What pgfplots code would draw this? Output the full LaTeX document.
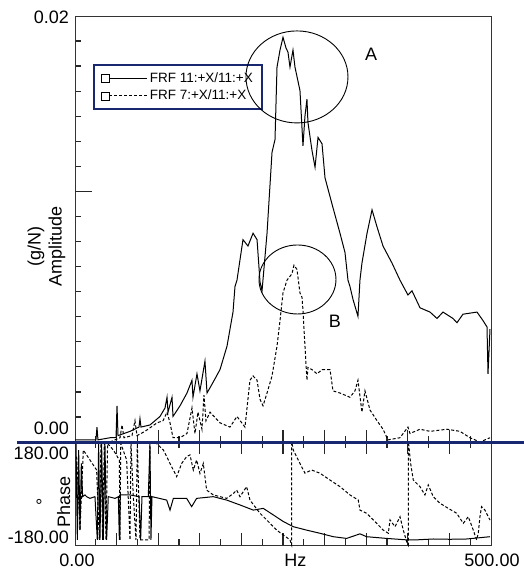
\documentclass[border=0pt]{standalone}
\usepackage{fontspec}
\setmainfont{Liberation Sans}
\usepackage{pgfplots}
\pgfplotsset{compat=1.18}
\definecolor{navy}{RGB}{25,38,112}

\begin{document}
\fontsize{18bp}{21bp}\selectfont
\begin{tikzpicture}
\useasboundingbox (0,0) rectangle (524bp,-573bp);
\pgfplotsset{
  frf/.style={
    scale only axis, width=416bp,
    xmin=0, xmax=500, clip=false,
    scaled y ticks=false, scaled x ticks=false,
    axis line style={black!80, line width=0.9bp},
    tick style={black!85, line width=1.3bp},
    tick align=inside,
    major tick length=6bp,
    xtick={25,75,...,475}, xticklabels=\empty,
    extra x ticks={50,100,...,450}, extra x tick labels={},
    extra x tick style={major tick length=12bp},
  },
  amp/.style={black, line width=1bp},
  amp7/.style={black, line width=1bp, dash pattern=on 3bp off 2bp},
}

% ---------- amplitude ----------
\begin{axis}[frf,
  at={(75bp,-16bp)}, anchor=north west, height=426bp,
  ymin=0, ymax=0.02,
  xtick pos=left, ytick pos=left,
  ytick={0.0011765,0.0023529,0.0035294,0.0047059,0.0058824,0.0070588,0.0082353,0.0094118,0.0105882,0.0129412,0.0141176,0.0152941,0.0164706,0.0176471,0.0188235},
  yticklabels=\empty,
  extra y ticks={0.0117647}, extra y tick labels={},
  extra y tick style={major tick length=17bp},
  ylabel={(g/N)\\Amplitude},
  ylabel style={at={(rel axis cs:-0.0685,0.458)}, anchor=center, align=center, rotate=0},
  legend style={at={(rel axis cs:0.043,0.887)}, anchor=north west,
    draw=navy, line width=2.2bp, fill=white,
    font=\fontsize{13.5bp}{16bp}\selectfont,
    inner xsep=7bp, inner ysep=5bp, row sep=1bp},
  legend cell align=left,
  legend image code/.code={
    \draw[#1] (8bp,0bp) -- (46bp,0bp);
    \draw[solid, line width=0.6bp, black] (0bp,-4bp) rectangle (8bp,4bp);
  },
]
\addplot[amp] coordinates {
(0,0.0001) (18,0.0001) (25.2,0.0001) (26.4,0.0007) (27.6,0.0001) (42.1,0.0002)
(49.3,0.0002) (50.5,0.0017) (51.7,0.0003) (66.1,0.0005) (76.9,0.0007) (78.1,0.0011)
(79.3,0.0007) (90.1,0.0008) (102.2,0.0012) (108.2,0.0016) (110.6,0.0021) (111.8,0.0014)
(116.6,0.0021) (117.8,0.0012) (126.2,0.0017) (134.6,0.0023) (140.6,0.0029) (141.8,0.0021)
(146.6,0.0032) (150.2,0.0024) (156.2,0.0038) (158.7,0.0023) (165.9,0.0028) (174.3,0.0034)
(182.7,0.0045) (189.9,0.0061) (192.3,0.0073) (194.7,0.0076) (201.9,0.0095) (207.9,0.0092)
(214.0,0.0098) (218.8,0.0095) (222.4,0.0075) (224.8,0.0071) (230.8,0.0098) (236.8,0.0136)
(240.4,0.0142) (242.8,0.0176) (246.4,0.0184) (250.0,0.0190) (253.6,0.0185) (256.0,0.0183)
(258.4,0.0176) (262.0,0.0184) (264.4,0.0176) (270.4,0.0165) (274.0,0.0139) (276.4,0.0153)
(278.8,0.0161) (280.0,0.0150) (284.8,0.0137) (288.5,0.0129) (292.1,0.0143) (296.9,0.0140)
(300.5,0.0124) (310.1,0.0110) (318.5,0.0098) (324.5,0.0089) (328.1,0.0076) (330.5,0.0073)
(334.1,0.0067) (340.1,0.0059) (342.5,0.0076) (344.9,0.0084) (351.0,0.0098) (357.0,0.0109)
(363.0,0.0101) (370.2,0.0092) (381.0,0.0084) (390.6,0.0076) (400.2,0.0069) (405.0,0.0071)
(414.7,0.0063) (426.7,0.0061) (435.1,0.0058) (442.3,0.0061) (454.3,0.0058) (459.1,0.0056)
(466.3,0.0060) (483.2,0.0061) (490.4,0.0057) (495.2,0.0054) (496.4,0.0032) (498.8,0.0053)
};
\addlegendentry{FRF 11:+X/11:+X}
\addplot[amp7] coordinates {
(0,0.0000) (42.1,0.0000) (54.1,0.0002) (56.5,0.0008) (58.9,0.0002) (68.5,0.0003)
(72.1,0.0010) (74.5,0.0003) (84.1,0.0005) (98.6,0.0009) (105.8,0.0010) (110.6,0.0014)
(114.2,0.0009) (117.8,0.0002) (126.2,0.0002) (134.6,0.0004) (140.6,0.0016) (144.2,0.0004)
(147.8,0.0014) (152.6,0.0006) (155.0,0.0022) (157.4,0.0010) (162.3,0.0014) (174.3,0.0009)
(186.3,0.0007) (194.7,0.0012) (204.3,0.0007) (210.3,0.0029) (214.0,0.0031) (218.8,0.0029)
(222.4,0.0020) (226.0,0.0017) (230.8,0.0023) (236.8,0.0031) (242.8,0.0045) (246.4,0.0057)
(250.0,0.0070) (254.8,0.0076) (260.8,0.0079) (263.2,0.0083) (266.8,0.0081) (270.4,0.0070)
(272.8,0.0068) (274.0,0.0062) (276.4,0.0045) (278.8,0.0029) (280.0,0.0035) (284.8,0.0034)
(290.9,0.0032) (296.9,0.0034) (306.5,0.0034) (310.1,0.0024) (318.5,0.0023) (330.5,0.0021)
(336.5,0.0024) (340.1,0.0029) (344.9,0.0014) (348.5,0.0024) (354.6,0.0015) (363.0,0.0010)
(370.2,0.0006) (376.2,0.0001) (390.6,0.0002) (400.2,0.0007) (402.6,0.0004) (414.7,0.0006)
(426.7,0.0005) (447.1,0.0006) (462.7,0.0005) (474.7,0.0002) (486.8,0.0000) (498.8,0.0002)
};
\addlegendentry{FRF 7:+X/11:+X}
\node[anchor=east, inner sep=0, xshift=-6bp, yshift=-1.5bp] at (rel axis cs:0,1) {0.02};
\node[anchor=east, inner sep=0, xshift=-6bp, yshift=14bp] at (rel axis cs:0,0) {0.00};
\node at (axis cs:355.8,0.01822) {A};
\node at (axis cs:312.5,0.00568) {B};
\coordinate (cA) at (axis cs:266.8,0.01714);
\coordinate (cB) at (axis cs:267.4,0.00763);
\end{axis}
\draw[line width=0.9bp] (cA) ellipse [x radius=51bp, y radius=46bp];
\draw[line width=0.9bp] (cB) ellipse [x radius=38.5bp, y radius=34.5bp];

% ---------- phase ----------
\begin{axis}[frf,
  at={(75bp,-442bp)}, anchor=north west, height=103bp,
  ymin=-180, ymax=180, ytick=\empty,
  xtick pos=both,
  xlabel={Hz},
  xlabel style={at={(rel axis cs:0.53,0)}, anchor=center, yshift=-15bp},
  ylabel={°\\Phase},
  ylabel style={at={(rel axis cs:-0.0517,0.417)}, anchor=center, align=center, rotate=0},
]
\addplot[amp] coordinates {
(1.2,175) (2.8,-162) (4.4,152) (6.0,-128) (7.6,105) (9.2,-11) (12.0,-5) (14.0,-11)
(18.0,-17) (24.0,-11) (26.8,-162) (28.4,175) (30.0,-162) (32.0,175) (34.0,-162)
(36.0,175) (38.0,-162) (40.0,-11) (48.1,-17) (52.1,-11) (53.3,-162) (54.5,-5)
(66.1,-5) (77.0,-11) (78.9,-162) (80.5,-11) (88.1,-11) (90.1,175) (91.3,-162) (92.5,-11)
(110.2,-23) (114.2,-58) (118.2,-17) (134.2,-17) (140.2,-46) (146.2,-17) (166.2,-11)
(182.3,-23) (198.3,-40) (214.3,-58) (226.3,-52) (238.4,-75) (250.4,-98) (262.4,-116)
(278.4,-128) (294.4,-139) (310.5,-151) (326.5,-157) (342.5,-141) (350.5,-151)
(374.6,-157) (398.6,-162) (410.6,-162) (430.6,-159) (450.7,-160) (470.7,-159) (498.8,-151)
};
\addplot[amp7] coordinates {
(2.0,129) (6.0,-128) (10.0,152) (26.0,82) (29.2,-162) (31.2,175) (33.2,-162) (35.2,175)
(37.2,-162) (39.2,175) (46.1,152) (53.3,117) (54.1,-162) (55.0,175) (62.1,117)
(66.1,-162) (67.3,175) (70.1,-11) (73.3,-162) (74.9,175) (78.1,-162) (89.0,-162)
(90.1,175) (98.1,175) (106.2,152) (110.2,129) (114.2,105) (118.2,82) (122.2,59)
(128.2,105) (134.2,129) (138.2,135) (142.2,82) (146.2,117) (150.2,70) (154.2,105)
(158.2,12) (166.2,-5) (182.3,-17) (190.3,0) (194.3,12) (198.3,-11) (206.3,24)
(210.3,-23) (222.3,-69) (230.3,-92) (242.4,-128) (250.4,-145) (258.4,-162) (260.4,-180)
(260.5,180) (262.4,152) (270.4,105) (276.4,71) (284.4,82) (294.4,71) (306.5,47)
(318.5,24) (330.5,-5) (340.5,-23) (342.5,-58) (350.5,-69) (358.5,-92) (370.5,-128)
(376.6,-139) (378.6,-92) (384.6,-116) (390.6,-81) (394.6,-128) (398.6,-168) (400.6,-180)
(400.8,180) (403.4,105) (406.6,47) (414.6,24) (420.6,-5) (424.6,30) (430.6,-11)
(438.6,-34) (448.7,-52) (458.7,-69) (466.7,-104) (472.7,-81) (478.7,-128) (482.7,-162)
(484.7,-139) (486.7,-81) (488.7,-46) (492.7,-58) (498.8,-93)
};
\node[anchor=east, inner sep=0, xshift=-6bp, yshift=-11bp] at (rel axis cs:0,1) {180.00};
\node[anchor=east, inner sep=0, xshift=-6bp, yshift=8bp] at (rel axis cs:0,0) {-180.00};
\node[anchor=center, inner sep=0, xshift=2bp, yshift=-15bp] at (rel axis cs:0,0) {0.00};
\node[anchor=center, inner sep=0, xshift=1bp, yshift=-15bp] at (rel axis cs:1,0) {500.00};
\draw[navy, line width=3bp] (rel axis cs:-0.139,1) -- (rel axis cs:1.08,1);
\end{axis}
\end{tikzpicture}
\end{document}
